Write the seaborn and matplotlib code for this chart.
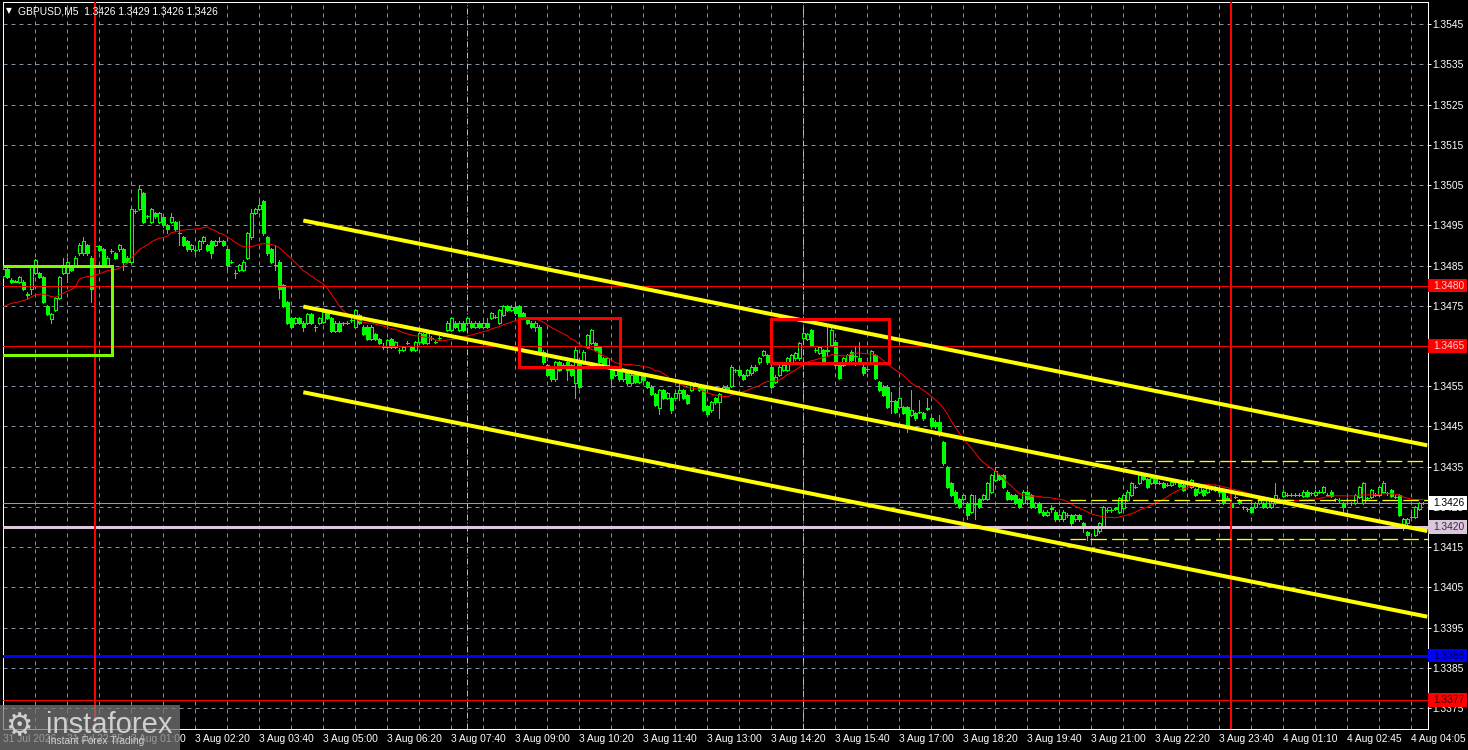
import numpy as np
import pandas as pd
import matplotlib
matplotlib.use("Agg")
import matplotlib.pyplot as plt
import matplotlib.transforms as mtransforms
from matplotlib.patches import Rectangle
import seaborn as sns

# GBPUSD M5 candles, prices in pips above 1.3400
BASE = 1.3400

opens = [
    82.3, 84.2, 81.5, 81.0, 81.0, 81.0, 78.0, 79.1, 83.1, 83.1,
    82.1, 75.0, 71.7, 74.0, 76.9, 83.1, 83.1, 84.7, 85.2, 88.0,
    88.0, 90.1, 87.0, 89.9, 89.9, 89.0, 85.2, 88.5, 88.0, 89.0,
    89.0, 87.0, 86.0, 98.5, 99.0, 103.0, 97.2, 95.9, 98.0, 95.9,
    97.0, 95.0, 95.9, 95.9, 93.0, 92.0, 91.1, 89.0, 88.9, 89.0,
    91.0, 90.1, 91.1, 90.1, 91.1, 91.1, 89.0, 86.0, 83.1, 84.0,
    84.0, 87.0, 92.0, 98.0, 99.0, 101.0, 92.0, 89.0, 85.2, 86.0,
    80.2, 75.9, 71.9, 70.8, 71.9, 70.8, 70.8, 72.9, 69.8, 70.8,
    71.0, 73.5, 72.0, 68.8, 70.8, 70.6, 70.8, 71.5, 69.8, 72.7,
    69.8, 69.8, 66.8, 68.0, 66.8, 64.8, 64.8, 66.8, 64.8, 64.0,
    64.0, 65.8, 64.8, 64.0, 66.0, 68.0, 65.8, 67.0, 66.1, 67.0,
    67.8, 69.0, 69.0, 70.8, 69.0, 70.8, 70.6, 70.8, 69.8, 70.8,
    69.8, 70.8, 71.9, 72.3, 70.8, 72.7, 75.0, 74.0, 74.8, 75.0,
    73.1, 71.9, 70.8, 69.8, 69.8, 63.6, 60.3, 59.2, 56.7, 61.0,
    60.3, 61.0, 60.3, 55.7, 61.0, 60.9, 64.8, 65.7, 65.8, 64.8,
    61.9, 60.3, 59.0, 57.8, 59.9, 56.7, 58.6, 55.7, 58.0, 56.0,
    57.8, 56.1, 54.9, 53.0, 49.5, 54.0, 52.0, 52.0, 52.0, 53.2,
    54.1, 52.8, 54.1, 55.7, 55.0, 54.5, 50.1, 49.0, 52.0, 51.0,
    54.1, 54.9, 55.1, 59.0, 59.0, 57.8, 57.8, 58.2, 59.9, 60.9,
    62.8, 62.8, 59.9, 56.1, 57.8, 59.0, 59.0, 61.1, 61.9, 61.9,
    66.9, 66.7, 69.0, 64.0, 63.2, 64.0, 64.0, 65.3, 66.1, 60.3,
    60.3, 61.1, 63.6, 62.4, 61.9, 59.9, 59.2, 61.1, 62.8, 56.1,
    54.9, 54.9, 51.2, 51.2, 49.9, 49.9, 49.9, 47.9, 48.3, 48.7,
    48.3, 49.4, 47.0, 46.2, 46.0, 41.2, 34.8, 30.9, 28.8, 26.9,
    26.9, 25.9, 23.8, 25.8, 26.9, 26.9, 26.9, 28.8, 31.7, 32.9,
    32.9, 28.8, 28.0, 28.0, 26.9, 25.9, 28.8, 28.0, 24.9, 25.9,
    23.8, 23.0, 24.5, 23.8, 21.9, 21.9, 23.0, 23.0, 21.9, 23.0,
    20.9, 18.8, 16.9, 18.0, 18.9, 20.1, 24.2, 24.2, 24.5, 23.8,
    24.7, 26.7, 28.0, 30.0, 30.9, 32.9, 31.9, 30.9, 32.1, 31.0,
    30.9, 30.5, 30.5, 31.1, 31.0, 30.5, 30.8, 30.0, 29.5, 28.8,
    29.2, 28.8, 29.6, 29.2, 29.6, 28.8, 27.0, 25.9, 27.5, 26.7,
    24.9, 24.4, 24.9, 24.9, 25.9, 25.9, 24.9, 24.9, 25.9, 26.9,
    27.7, 28.0, 28.0, 28.0, 28.0, 27.7, 28.8, 28.4, 28.0, 28.8,
    28.8, 28.0, 28.8, 26.9, 26.7, 25.9, 26.7, 25.9, 25.9, 27.5,
    25.9, 27.1, 27.5, 28.0, 28.0, 28.8, 28.4, 29.2, 27.5, 28.0,
    20.8, 21.0, 22.5, 22.6, 24.5, 26.0,
]
closes = [
    84.2, 82.1, 81.0, 81.1, 82.1, 79.1, 77.8, 84.7, 86.3, 82.1,
    75.9, 72.9, 72.9, 76.9, 82.1, 84.7, 86.0, 83.9, 87.0, 90.1,
    91.1, 88.0, 79.1, 89.9, 88.9, 85.2, 87.0, 88.5, 87.0, 90.1,
    86.0, 86.0, 99.0, 98.5, 104.0, 95.9, 97.2, 99.0, 97.2, 98.0,
    95.0, 94.0, 97.0, 94.0, 93.0, 90.1, 89.0, 90.1, 88.9, 91.1,
    92.0, 88.9, 88.0, 91.1, 91.1, 90.1, 85.2, 86.0, 83.1, 85.2,
    86.0, 93.0, 98.0, 99.0, 100.0, 93.0, 88.0, 86.0, 85.2, 79.1,
    75.0, 70.8, 69.8, 71.9, 70.8, 69.8, 72.9, 70.8, 69.8, 71.9,
    73.5, 72.0, 68.8, 70.8, 68.8, 70.6, 70.8, 71.5, 74.0, 70.8,
    68.0, 66.8, 69.8, 66.8, 65.8, 64.8, 66.5, 64.8, 66.0, 64.0,
    64.8, 65.8, 64.0, 66.0, 68.2, 65.8, 68.2, 67.0, 66.1, 67.0,
    67.8, 70.8, 71.9, 69.8, 70.8, 69.0, 71.9, 69.8, 70.8, 69.8,
    70.8, 69.8, 73.1, 72.3, 74.0, 75.0, 74.0, 74.8, 73.1, 72.3,
    71.9, 70.8, 69.8, 70.8, 63.6, 60.9, 57.8, 56.7, 61.0, 59.0,
    60.3, 59.0, 57.8, 64.0, 54.9, 63.6, 67.7, 69.0, 64.0, 60.9,
    60.3, 61.9, 57.0, 59.0, 56.7, 59.0, 55.7, 57.8, 56.0, 57.8,
    56.6, 54.9, 53.0, 50.3, 54.0, 52.0, 53.2, 49.1, 53.2, 54.1,
    52.0, 50.9, 55.7, 55.5, 54.1, 49.1, 48.1, 51.0, 51.0, 53.0,
    54.9, 54.1, 59.9, 59.0, 57.8, 56.8, 59.0, 59.9, 59.0, 61.9,
    63.8, 60.9, 54.9, 57.4, 59.9, 60.3, 61.9, 62.8, 63.2, 65.8,
    68.2, 68.0, 65.3, 64.0, 64.8, 61.1, 63.8, 69.0, 60.3, 57.0,
    61.9, 62.8, 61.5, 62.4, 61.1, 58.2, 59.2, 63.8, 57.0, 54.1,
    52.8, 49.9, 51.2, 48.7, 52.0, 48.3, 44.5, 49.1, 47.0, 48.7,
    47.0, 49.5, 45.0, 45.0, 43.0, 35.8, 29.9, 28.0, 25.9, 24.9,
    28.0, 23.0, 28.0, 25.9, 24.9, 28.0, 30.9, 32.9, 33.8, 31.9,
    29.9, 26.9, 26.9, 25.9, 24.9, 28.8, 26.9, 24.9, 25.9, 23.8,
    23.0, 23.8, 24.6, 21.9, 23.0, 23.8, 23.0, 20.9, 23.0, 21.9,
    20.1, 18.0, 16.9, 19.7, 20.9, 24.9, 24.2, 24.2, 24.6, 27.1,
    28.0, 28.8, 30.9, 30.0, 32.9, 31.9, 29.9, 32.1, 30.9, 31.0,
    30.0, 30.5, 31.3, 31.1, 30.2, 29.2, 30.9, 31.7, 28.0, 30.0,
    28.0, 30.0, 29.6, 30.0, 28.8, 25.9, 27.2, 24.9, 27.5, 25.9,
    24.9, 24.4, 23.8, 25.9, 26.9, 24.9, 26.7, 25.9, 28.0, 26.9,
    28.8, 28.0, 28.0, 28.0, 28.0, 28.8, 27.7, 28.4, 28.8, 28.8,
    29.9, 28.0, 27.7, 26.9, 26.7, 24.9, 26.7, 25.9, 28.0, 30.0,
    30.9, 27.1, 29.2, 28.0, 30.0, 30.9, 28.4, 27.7, 27.5, 23.0,
    21.9, 22.0, 22.5, 24.9, 26.0, 26.0,
]
highs = [
    84.6, 84.4, 81.8, 81.4, 82.4, 81.3, 78.5, 85.0, 86.6, 83.4,
    82.4, 75.3, 73.2, 77.2, 82.4, 87.0, 87.0, 85.0, 87.3, 90.5,
    92.2, 90.4, 87.3, 90.2, 90.2, 89.3, 87.3, 89.0, 88.3, 90.4,
    89.3, 87.3, 99.3, 99.0, 105.0, 103.3, 97.6, 99.3, 98.3, 98.3,
    97.3, 95.3, 98.0, 96.2, 96.2, 92.3, 91.4, 90.4, 89.2, 91.4,
    92.3, 90.4, 91.4, 91.4, 92.0, 91.4, 89.3, 86.4, 84.0, 85.5,
    86.3, 93.3, 99.0, 99.3, 101.0, 101.3, 92.3, 89.3, 90.0, 86.3,
    80.5, 76.2, 72.2, 72.2, 72.2, 71.1, 73.2, 73.2, 70.2, 72.2,
    74.5, 73.8, 72.3, 71.1, 71.1, 71.0, 71.2, 72.3, 74.3, 73.0,
    70.1, 70.1, 70.1, 68.3, 67.1, 65.8, 66.8, 67.1, 66.3, 64.4,
    65.1, 66.2, 65.1, 66.3, 68.5, 68.3, 68.5, 67.4, 66.5, 67.4,
    68.2, 71.1, 72.2, 71.1, 71.1, 71.1, 72.2, 71.1, 71.1, 71.1,
    71.1, 71.9, 73.4, 72.7, 74.3, 75.3, 75.3, 75.1, 76.0, 75.3,
    73.4, 72.2, 71.1, 71.1, 70.1, 63.9, 60.6, 59.5, 61.3, 61.3,
    60.7, 61.3, 60.6, 64.8, 61.3, 63.9, 68.0, 69.3, 66.1, 65.1,
    62.2, 62.2, 59.3, 59.3, 60.2, 59.3, 58.9, 58.1, 58.3, 58.1,
    58.1, 56.4, 55.2, 53.3, 54.3, 54.3, 53.5, 52.3, 53.5, 55.7,
    54.4, 53.1, 56.0, 56.0, 55.3, 54.8, 50.4, 51.3, 52.3, 53.3,
    55.2, 55.2, 60.2, 59.4, 59.3, 58.1, 59.3, 60.2, 60.2, 62.2,
    64.1, 63.1, 60.2, 57.7, 60.2, 60.6, 62.2, 63.1, 63.5, 66.1,
    68.5, 68.3, 69.3, 64.4, 65.1, 64.3, 69.8, 69.8, 66.4, 60.6,
    62.2, 63.1, 63.9, 64.8, 66.1, 60.2, 59.6, 64.1, 63.1, 56.4,
    55.2, 55.2, 53.6, 51.5, 54.9, 50.2, 50.2, 54.1, 48.6, 51.6,
    48.6, 52.0, 47.3, 46.5, 47.9, 41.5, 35.1, 31.2, 29.1, 27.2,
    28.3, 26.2, 28.3, 28.0, 27.2, 28.3, 31.2, 33.2, 34.8, 33.2,
    33.2, 29.1, 28.3, 28.3, 27.2, 29.1, 29.1, 28.3, 26.2, 26.2,
    24.1, 24.1, 25.4, 24.1, 23.3, 24.1, 23.4, 23.3, 23.3, 23.3,
    21.2, 19.1, 17.3, 20.0, 21.2, 25.2, 24.6, 24.6, 25.0, 27.4,
    28.3, 29.1, 31.2, 30.4, 33.2, 33.2, 32.2, 32.4, 32.4, 31.4,
    31.2, 30.9, 31.6, 31.5, 31.3, 30.8, 31.3, 32.0, 29.8, 30.3,
    29.5, 30.3, 30.0, 30.3, 29.9, 29.1, 27.6, 26.2, 27.9, 27.0,
    25.3, 24.8, 25.2, 26.2, 27.2, 26.2, 27.0, 26.2, 30.9, 27.3,
    29.1, 28.4, 28.4, 28.4, 28.4, 29.1, 29.1, 28.8, 29.1, 29.2,
    30.2, 28.4, 29.1, 27.3, 27.1, 26.2, 27.1, 26.3, 28.3, 30.3,
    31.2, 27.5, 29.5, 28.4, 30.3, 31.5, 28.8, 29.5, 27.9, 28.3,
    22.2, 22.3, 23.4, 25.2, 26.3, 26.3,
]
lows = [
    82.0, 81.8, 80.7, 80.8, 80.7, 78.8, 77.0, 78.0, 82.8, 81.8,
    75.6, 72.6, 70.8, 73.7, 76.6, 82.8, 81.0, 83.6, 84.9, 87.7,
    87.7, 87.7, 75.9, 89.6, 88.6, 84.9, 84.9, 88.0, 86.7, 88.7,
    84.0, 85.7, 85.7, 98.0, 98.7, 95.6, 96.8, 95.6, 96.9, 95.6,
    94.7, 93.0, 95.6, 93.7, 90.1, 89.8, 88.7, 88.7, 88.0, 88.7,
    90.7, 88.6, 87.0, 89.8, 90.8, 89.8, 84.0, 85.6, 82.0, 83.7,
    83.7, 86.7, 91.7, 97.7, 98.7, 92.7, 87.7, 85.7, 84.0, 76.9,
    74.7, 70.5, 69.5, 70.5, 70.5, 68.7, 70.5, 70.5, 68.7, 70.5,
    70.8, 71.7, 68.5, 68.5, 68.5, 70.2, 70.4, 71.0, 69.5, 70.5,
    67.7, 66.5, 66.5, 66.5, 65.5, 64.3, 64.5, 64.5, 64.5, 63.2,
    63.7, 65.4, 63.7, 63.7, 65.7, 65.5, 65.5, 66.6, 65.7, 66.6,
    67.4, 68.7, 68.7, 69.5, 68.7, 68.7, 70.3, 69.5, 69.5, 69.5,
    69.5, 69.5, 71.6, 71.9, 70.5, 72.4, 73.7, 73.7, 72.8, 72.0,
    71.6, 70.5, 69.5, 68.8, 63.3, 60.6, 57.5, 56.4, 56.4, 58.7,
    59.9, 56.5, 57.5, 52.0, 54.6, 60.6, 64.5, 65.4, 63.7, 60.6,
    60.0, 60.0, 54.9, 57.5, 56.4, 56.4, 55.4, 55.4, 55.7, 55.7,
    56.3, 54.6, 52.7, 50.0, 48.0, 51.7, 51.7, 48.3, 51.7, 51.6,
    51.7, 50.6, 53.8, 55.1, 53.8, 48.8, 47.8, 48.7, 50.7, 47.0,
    53.8, 53.8, 54.8, 58.6, 57.5, 56.5, 57.5, 57.9, 58.7, 60.6,
    62.5, 60.6, 54.6, 55.8, 57.5, 58.7, 58.7, 60.8, 61.6, 61.6,
    66.6, 66.4, 65.0, 63.6, 62.9, 60.8, 62.8, 65.0, 60.0, 56.7,
    60.0, 60.8, 61.2, 60.3, 60.8, 57.9, 58.8, 60.8, 56.7, 53.8,
    52.5, 49.6, 48.3, 48.4, 49.6, 48.0, 43.7, 47.6, 46.7, 48.3,
    46.7, 49.1, 44.7, 44.7, 42.5, 35.5, 29.6, 27.7, 25.6, 24.6,
    26.6, 22.0, 23.5, 22.0, 24.6, 26.6, 26.6, 28.5, 31.4, 31.6,
    29.6, 26.6, 26.6, 25.6, 24.6, 25.6, 26.6, 24.6, 24.6, 23.5,
    22.7, 22.7, 23.8, 21.6, 21.6, 21.6, 22.6, 20.6, 21.6, 21.6,
    18.8, 16.8, 16.0, 17.7, 18.6, 19.8, 23.8, 23.8, 24.2, 23.5,
    24.4, 26.4, 27.7, 29.6, 30.6, 31.6, 29.6, 30.6, 30.6, 30.6,
    29.7, 30.1, 30.2, 30.7, 29.9, 28.9, 30.4, 29.7, 27.7, 28.5,
    27.7, 28.5, 29.2, 28.9, 28.5, 25.6, 26.6, 24.6, 27.1, 25.6,
    24.5, 24.0, 23.5, 24.6, 25.6, 24.6, 24.6, 24.6, 25.6, 26.5,
    27.4, 27.6, 27.6, 27.6, 27.6, 27.4, 27.4, 28.0, 27.7, 28.4,
    28.5, 27.6, 27.4, 26.5, 26.3, 23.4, 26.3, 25.5, 25.6, 27.2,
    25.6, 26.7, 27.2, 27.6, 27.7, 28.5, 28.0, 27.4, 27.1, 22.7,
    19.2, 20.7, 21.8, 22.3, 24.2, 25.8,
]
# red moving average at the left edge, before 20 visible bars exist
ma_head = [74.8, 75.2, 75.6, 75.8, 76.0, 76.3, 76.6, 77.2, 77.7, 77.9,
           77.9, 77.6, 77.3, 77.1, 77.6, 78.1, 78.6, 79.1, 79.6]

time_labels = ["31 Jul 2026", "31 Jul 22:25", "3 Aug 01:00", "3 Aug 02:20",
               "3 Aug 03:40", "3 Aug 05:00", "3 Aug 06:20", "3 Aug 07:40",
               "3 Aug 09:00", "3 Aug 10:20", "3 Aug 11:40", "3 Aug 13:00",
               "3 Aug 14:20", "3 Aug 15:40", "3 Aug 17:00", "3 Aug 18:20",
               "3 Aug 19:40", "3 Aug 21:00", "3 Aug 22:20", "3 Aug 23:40",
               "4 Aug 01:10", "4 Aug 02:45", "4 Aug 04:05"]
price_ticks = [1.3375, 1.3385, 1.3395, 1.3405, 1.3415, 1.3425, 1.3435, 1.3445,
               1.3455, 1.3465, 1.3475, 1.3485, 1.3495, 1.3505, 1.3515, 1.3525,
               1.3535, 1.3545]

# horizontal levels: price, colour, width(px), tag face, tag text colour
levels = [
    (1.3480, "#ff0000", 1, "#ff0000", "#ffd0d0"),
    (1.3465, "#ff0000", 1, "#ff0000", "#ffd0d0"),
    (1.3426, "#9a9aa6", 1, "#ffffff", "#000000"),
    (1.3420, "#dcc6dc", 3, "#dcc6dc", "#303040"),
    (1.3388, "#0000ff", 3, "#0000ff", "#000040"),
    (1.3377, "#ff0000", 1, "#ff0000", "#400000"),
]
# regression channel (bar index, pips)
channel_bars = [75, 356]
channel_upper = [96.2, 40.3]
channel_mid = [74.8, 19.0]
channel_low = [53.5, -2.3]
# dashed yellow levels (pips) and the bar where each begins
dash_levels = [36.4, 26.8, 17.1]
dash_start = [272.9, 266.7, 266.7]
# boxes: bar from, bar to, pips low, pips high
lime_box = (-1.0, 27.1, 62.8, 84.8)
red_boxes = [(128.85, 154.2, 59.9, 71.9), (191.85, 221.35, 60.7, 71.7)]
day_lines = [22.9, 306.9]
session_lines = [116, 200]

W, H = 1468, 750
PX = 72 / 100
LIME = "#00ff00"
FONT = "Liberation Sans"
FS = 7.4

sns.set_style("dark")
plt.rcParams["font.family"] = [FONT, "DejaVu Sans"]


def pr(p):
    return BASE + np.asarray(p, dtype=float) / 1e4


df = pd.DataFrame({"bar": np.arange(len(closes)), "open": pr(opens),
                   "high": pr(highs), "low": pr(lows), "close": pr(closes)})
df["ma"] = df["close"].rolling(20).mean()
df.loc[:len(ma_head) - 1, "ma"] = pr(ma_head)

fig = plt.figure(figsize=(W / 100, H / 100), dpi=100, facecolor="black")
ax = fig.add_axes([2.7 / W, (H - 729.3) / H, 1425 / W, 727.6 / H])
ax.set_facecolor("black")
ax.set_xlim(-0.15, 356.1)
ax.set_ylim(pr(-30.3), pr(150.6))

# ticks and grid
xt = np.arange(0, 356, 8)
ax.set_xticks(xt)
ax.set_xticklabels([time_labels[k // 2] if k % 2 == 0 else "" for k in range(len(xt))])
for lab in ax.get_xticklabels():
    lab.set_horizontalalignment("left")
ax.yaxis.tick_right()
ax.set_yticks(price_ticks)
ax.set_yticklabels([f"{p:.4f}" for p in price_ticks])
ax.tick_params(colors="white", labelcolor="white", labelsize=FS, length=3 * PX,
               width=PX, pad=1.2)
ax.grid(True, color="#8090a0", lw=PX, linestyle=(0, (4, 4)))
for s in ax.spines.values():
    s.set_color("white")
    s.set_linewidth(PX)

# candles: hollow bodies for up bars, filled for down bars
bull = df[df["close"] >= df["open"]]
bear = df[df["close"] < df["open"]]
ax.vlines(df["bar"], df["low"], df["high"], color=LIME, lw=PX, zorder=4,
          antialiased=False)
ax.bar(bull["bar"], bull["close"] - bull["open"], bottom=bull["open"], width=0.62,
       facecolor="black", edgecolor=LIME, linewidth=PX, zorder=5, antialiased=False)
ax.bar(bear["bar"], bear["open"] - bear["close"], bottom=bear["close"], width=0.62,
       facecolor=LIME, edgecolor=LIME, linewidth=PX, zorder=5, antialiased=False)

sns.lineplot(data=df, x="bar", y="ma", color="#ff0000", lw=PX, ax=ax,
             legend=False, zorder=6)
ax.set_xlabel("")
ax.set_ylabel("")

# level lines
for p, col, w, _, _ in levels:
    ax.axhline(p, color=col, lw=w * PX, zorder=7)

for b in day_lines:
    ax.axvline(b, color="#ff0000", lw=2 * PX, zorder=7)
for b in session_lines:
    ax.axvline(b, color="#7cfc00", lw=PX, linestyle=(0, (6, 2, 1, 2)), zorder=3)

for ys in (channel_upper, channel_mid, channel_low):
    ax.plot(channel_bars, pr(ys), color="#ffff00", lw=4 * PX, zorder=8,
            solid_capstyle="butt")
for lv, b0 in zip(dash_levels, dash_start):
    ax.plot([b0, 356.1], pr([lv, lv]), color="#ffff00", lw=1.3 * PX,
            linestyle=(0, (12, 4)), zorder=8)

x0, x1, y0, y1 = lime_box
ax.add_patch(Rectangle((x0, pr(y0)), x1 - x0, pr(y1) - pr(y0), fill=False,
                       edgecolor="#7cfc00", lw=3 * PX, zorder=9))
for x0, x1, y0, y1 in red_boxes:
    ax.add_patch(Rectangle((x0, pr(y0)), x1 - x0, pr(y1) - pr(y0), fill=False,
                           edgecolor="#ff0000", lw=3 * PX, zorder=9))

# price tags on the right scale
blend = mtransforms.blended_transform_factory(ax.transAxes, ax.transData)
tag_h = 13.4 / 4.022 / 1e4
for p, _, _, face, tcol in levels:
    ax.add_patch(Rectangle((1.0004, p - tag_h / 2), 0.0274, tag_h, transform=blend,
                           facecolor=face, edgecolor="none", clip_on=False, zorder=20))
    ax.text(1.0037, p, f"{p:.4f}", transform=blend, color=tcol, fontsize=FS,
            va="center", ha="left", clip_on=False, zorder=21)

# chart header
fig.text(6 / W, 1 - 11 / H, "\u25bc", color="white", fontsize=5.5, va="center",
         family="DejaVu Sans")
fig.text(18 / W, 1 - 11 / H, "GBPUSD,M5  1.3426 1.3429 1.3426 1.3426",
         color="white", fontsize=FS, va="center")

# watermark
fig.add_artist(Rectangle((0, 0), 180 / W, 45 / H, transform=fig.transFigure,
                         facecolor="#777777", alpha=0.75, edgecolor="none", zorder=30))
fig.text(5 / W, 1 - 727 / H, "\u2699", color="#d0d0d0", fontsize=22, va="center",
         family="DejaVu Sans", zorder=31)
fig.text(46 / W, 1 - 733 / H, "instaforex", color="#d0d0d0", fontsize=21,
         va="baseline", zorder=31)
fig.text(48 / W, 1 - 741 / H, "Instant Forex Trading", color="#d0d0d0",
         fontsize=7.3, va="center", zorder=31)

fig.savefig("out.png", dpi=100, facecolor="black")
